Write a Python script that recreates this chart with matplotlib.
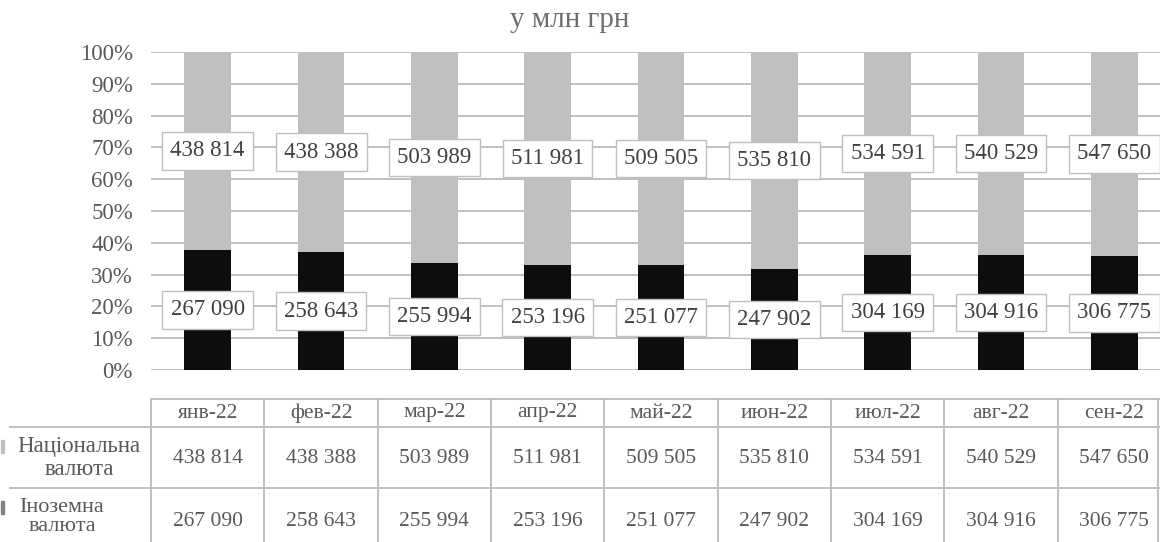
import matplotlib
matplotlib.use("Agg")
import matplotlib.pyplot as plt
import matplotlib.transforms as mtransforms
import numpy as np

months = ["янв-22", "фев-22", "мар-22", "апр-22", "май-22", "июн-22", "июл-22", "авг-22", "сен-22"]
national = [438814, 438388, 503989, 511981, 509505, 535810, 534591, 540529, 547650]
foreign = [267090, 258643, 255994, 253196, 251077, 247902, 304169, 304916, 306775]
row_labels = ["Національна\nвалюта", "Іноземна\nвалюта"]
title = "у млн грн"

plt.rcParams['font.family'] = ['Liberation Serif', 'DejaVu Serif']

GRAY = "#BFBFBF"
BLACK = "#0D0D0D"
TXT = "#595959"
LBL = "#404040"

def fmt(v):
    return f"{v:,}".replace(",", " ")

W, H = 1160, 542
fig = plt.figure(figsize=(W / 100, H / 100), dpi=100)

# main axes in pixel geometry
x0, x1 = 151, 1171
y_top, y_bot = 52, 370
ax = fig.add_axes([x0 / W, 1 - y_bot / H, (x1 - x0) / W, (y_bot - y_top) / H])

nat = np.array(national, dtype=float)
frg = np.array(foreign, dtype=float)
tot = nat + frg
p_frg = frg / tot * 100
p_nat = nat / tot * 100
x = np.arange(len(months))
bw = 0.41

ax.bar(x, p_frg, width=bw, color=BLACK, zorder=2)
ax.bar(x, p_nat, width=bw, bottom=p_frg, color=GRAY, zorder=2)

ax.set_xlim(-0.5, len(months) - 0.5)
ax.set_ylim(0, 100)
ax.set_yticks(np.arange(0, 101, 10))
ax.set_yticklabels([f"{v}%" for v in range(0, 101, 10)])
ax.tick_params(axis='y', length=0, pad=13, labelsize=16.5, labelcolor=TXT)
ax.set_xticks([])
for s in ax.spines.values():
    s.set_visible(False)
ax.yaxis.grid(True, color=GRAY, linewidth=1.4, zorder=0)
ax.set_axisbelow(True)

box = dict(boxstyle="square,pad=0.36", facecolor="white", edgecolor=GRAY, linewidth=1.0)
for i in range(len(months)):
    ax.text(x[i], p_frg[i] / 2, fmt(foreign[i]), ha="center", va="center",
            fontsize=16.5, color=LBL, bbox=box, zorder=5)
    ax.text(x[i], p_frg[i] + p_nat[i] / 2, fmt(national[i]), ha="center", va="center",
            fontsize=16.5, color=LBL, bbox=box, zorder=5)

# title
fig.text(570 / W, 1 - 20 / H, title, ha="center", va="center", fontsize=21, color="#6E6E6E")

# table overlay axes in pixel coordinates
tab = fig.add_axes([0, 0, 1, 1], facecolor="none")
tab.set_xlim(0, W)
tab.set_ylim(H, 0)
tab.axis("off")
bt = mtransforms.blended_transform_factory(ax.transData, tab.transData)

r_head_top, r_head_bot, r1_bot, r2_bot = 399, 427, 488, 560
lw = 1.4
# horizontal lines
tab.plot([-0.5, len(months) - 0.5], [r_head_top, r_head_top], color=GRAY, lw=lw, transform=bt, clip_on=False)
for yy in (r_head_bot, r1_bot):
    tab.plot([10, W], [yy, yy], color=GRAY, lw=lw, clip_on=False)
# vertical lines
for i in range(len(months)):
    tab.plot([i - 0.5, i - 0.5], [r_head_top, H + 5], color=GRAY, lw=lw, transform=bt, clip_on=False)
tab.plot([1158, 1158], [r_head_top, H + 5], color=GRAY, lw=lw)

tsize = 15.5
for i, m in enumerate(months):
    tab.text(x[i], (r_head_top + r_head_bot) / 2, m, transform=bt, ha="center", va="center",
             fontsize=tsize, color=TXT)
    tab.text(x[i], (r_head_bot + r1_bot) / 2 + 1, fmt(national[i]), transform=bt, ha="center", va="center",
             fontsize=tsize, color=TXT)
    tab.text(x[i], 521, fmt(foreign[i]), transform=bt, ha="center", va="center",
             fontsize=tsize, color=TXT)

# row labels with legend keys
tab.text(79, 458, row_labels[0], ha="center", va="center",
         fontsize=16.5, color=TXT, linespacing=1.1)
tab.text(62, 517, row_labels[1], ha="center", va="center",
         fontsize=16, color=TXT, linespacing=1.0)
tab.add_patch(plt.Rectangle((1, 440), 3, 13, color=GRAY))
tab.add_patch(plt.Rectangle((1, 501), 3, 13, color="#808080"))

fig.savefig("out.png", dpi=100)
